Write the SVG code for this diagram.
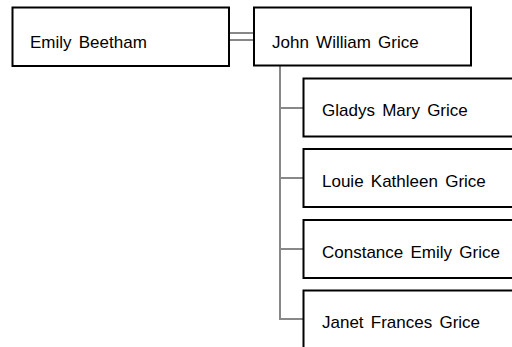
<svg xmlns="http://www.w3.org/2000/svg" width="512" height="347" viewBox="0 0 512 347">
<style>
.box{fill:#fff;stroke:#000;stroke-width:2}
.lbl{font-family:"Liberation Sans",Arial,sans-serif;font-size:17px;fill:#000;word-spacing:2.5px}
.con{stroke:#888;stroke-width:2;fill:none}
</style>
<rect width="512" height="347" fill="#fff"/>
<g id="connectors">
<line class="con" x1="229" y1="33" x2="254" y2="33"/>
<line class="con" x1="229" y1="40" x2="254" y2="40"/>
<polyline class="con" points="280,66 280,319 303,319"/>
<line class="con" x1="280" y1="108" x2="303" y2="108"/>
<line class="con" x1="280" y1="178" x2="303" y2="178"/>
<line class="con" x1="280" y1="249" x2="303" y2="249"/>
</g>
<g id="emily-beetham">
<rect class="box" x="12.5" y="7.5" width="216.5" height="58.5"/>
<text class="lbl" x="30" y="47.5">Emily Beetham</text>
</g>
<g id="john-william-grice">
<rect class="box" x="254" y="7.5" width="217" height="58"/>
<text class="lbl" x="272" y="47.5">John William Grice</text>
</g>
<g id="gladys-mary-grice">
<rect class="box" x="303.5" y="78.5" width="220" height="58"/>
<text class="lbl" x="322" y="115.5">Gladys Mary Grice</text>
</g>
<g id="louie-kathleen-grice">
<rect class="box" x="303.5" y="149" width="220" height="58"/>
<text class="lbl" x="322" y="186.5">Louie Kathleen Grice</text>
</g>
<g id="constance-emily-grice">
<rect class="box" x="303.5" y="220" width="220" height="58"/>
<text class="lbl" x="322" y="257.5">Constance Emily Grice</text>
</g>
<g id="janet-frances-grice">
<rect class="box" x="303.5" y="290.5" width="220" height="60"/>
<text class="lbl" x="322" y="328">Janet Frances Grice</text>
</g>
</svg>
